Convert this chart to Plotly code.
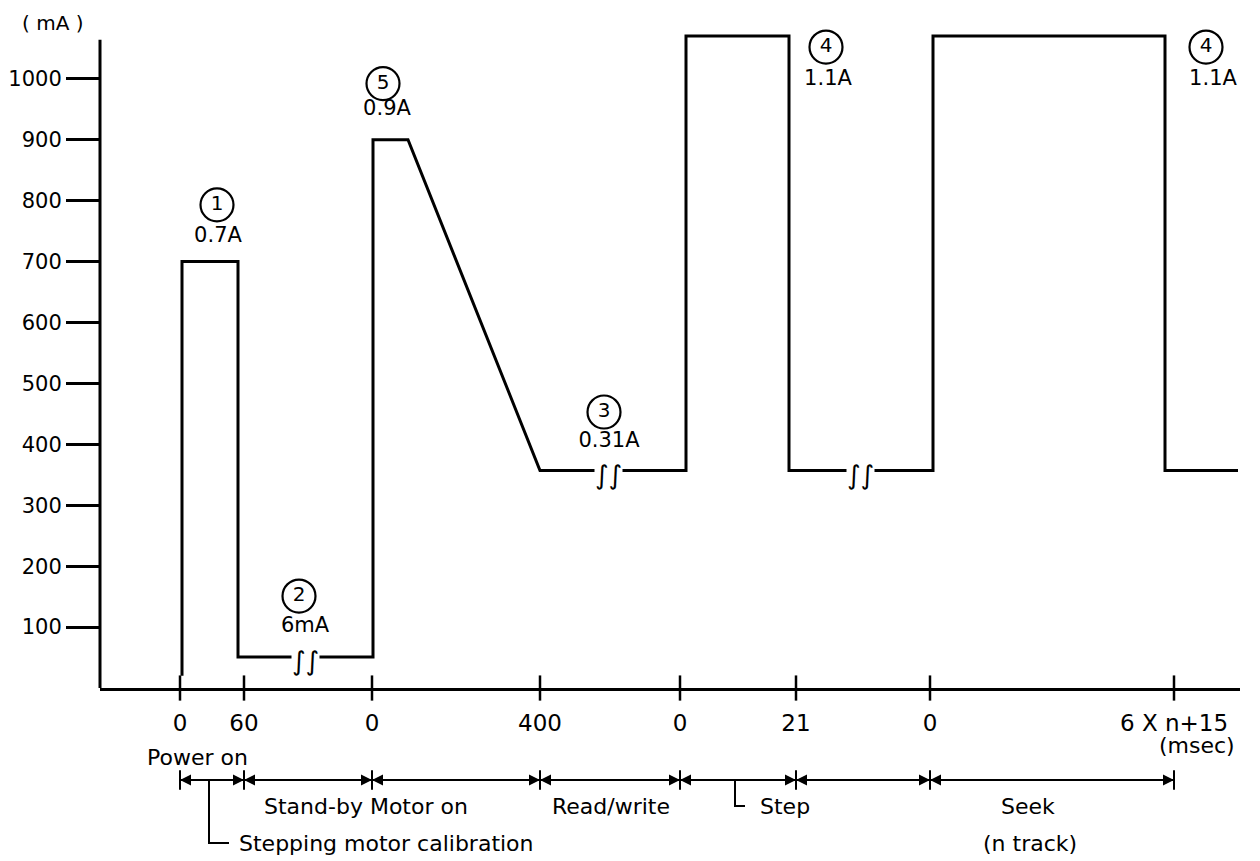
import plotly.graph_objects as go

FONT = "DejaVu Sans"

# y axis (mA)
y_ticks = [100, 200, 300, 400, 500, 600, 700, 800, 900, 1000]

# time axis: schematic positions of the segment boundaries along the drawn axis
tick_pos = [0, 64, 192, 360, 500, 616, 750, 994]
tick_text = ["0", "60", "0", "400", "0", "21", "0", "6 X n+15"]

# supply current waveform (mA) against the schematic time position
wave_x = [2, 2, 58, 58, 193, 193, 228, 360, 506, 506, 609, 609, 753, 753, 985, 985, 1058]
wave_ma = [20, 700, 700, 51, 51, 900, 900, 357, 357, 1070, 1070, 357, 357, 1070, 1070, 357, 357]

# breaks in the time axis
break_x = [125, 428, 680]
break_ma = [51, 357, 357]

# circled reference numbers and the current values next to them
mark_num = ["1", "2", "5", "3", "4", "4"]
value_text = ["0.7A", "6mA", "0.9A", "0.31A", "1.1A", "1.1A"]

# phases shown under the time axis
phase_text = ["Stand-by Motor on", "Read/write", "Step", "Seek"]

# label placement (layout only)
mark_x = [37, 119, 203, 424, 646, 1026]
mark_y = [793, 151, 992, 453, 1052, 1052]
value_x = [38, 125, 207, 429, 648, 1033]
value_y = [741, 100, 949, 404, 998, 998]
phase_x = [186, 431, 578, 848]

fig = go.Figure()

# the waveform
fig.add_trace(go.Scatter(x=wave_x, y=wave_ma, mode="lines",
                         line=dict(color="black", width=3)))

# tick marks crossing the time axis
fig.add_trace(go.Scatter(x=tick_pos, y=[0] * len(tick_pos), mode="markers",
                         marker=dict(symbol="line-ns", size=18,
                                     line=dict(color="black", width=2.5)),
                         cliponaxis=False))

# circled numbers
fig.add_trace(go.Scatter(x=mark_x, y=mark_y, mode="markers+text", text=mark_num,
                         textposition="middle center",
                         textfont=dict(family=FONT, size=20, color="black"),
                         marker=dict(symbol="circle-open", size=33, color="black",
                                     line=dict(width=2.2)),
                         cliponaxis=False))

# current values
fig.add_trace(go.Scatter(x=value_x, y=value_y, mode="text", text=value_text,
                         textposition="middle center",
                         textfont=dict(family=FONT, size=21, color="black"),
                         cliponaxis=False))

# axis breaks
for bx, by in zip(break_x, break_ma):
    fig.add_annotation(x=bx, y=by, text="∫∫", showarrow=False, bgcolor="white",
                       borderpad=0, yshift=-4,
                       font=dict(family=FONT, size=26, color="black"))

# timeline of operation phases (second, hidden y axis under the plot)
fig.add_trace(go.Scatter(x=[tick_pos[0], tick_pos[-1]], y=[0, 0], mode="lines",
                         line=dict(color="black", width=2), yaxis="y2"))
fig.add_trace(go.Scatter(x=tick_pos[1:], y=[0] * (len(tick_pos) - 1), mode="markers",
                         marker=dict(symbol="arrow-right", size=11, color="black"),
                         yaxis="y2", cliponaxis=False))
fig.add_trace(go.Scatter(x=tick_pos[:-1], y=[0] * (len(tick_pos) - 1), mode="markers",
                         marker=dict(symbol="arrow-left", size=11, color="black"),
                         yaxis="y2", cliponaxis=False))
fig.add_trace(go.Scatter(x=tick_pos, y=[0] * len(tick_pos), mode="markers",
                         marker=dict(symbol="line-ns", size=14,
                                     line=dict(color="black", width=2)),
                         yaxis="y2", cliponaxis=False))

# leader lines
fig.add_trace(go.Scatter(x=[29, 29, 49], y=[0, -63, -63], mode="lines",
                         line=dict(color="black", width=2), yaxis="y2"))
fig.add_trace(go.Scatter(x=[555, 555, 565], y=[0, -26, -26], mode="lines",
                         line=dict(color="black", width=2), yaxis="y2"))

txt = dict(family=FONT, size=22, color="black")
for t, px in zip(phase_text, phase_x):
    fig.add_annotation(x=px, y=-26, yref="y2", text=t, showarrow=False, font=txt,
                       xanchor="left" if t == "Step" else "center")
fig.add_annotation(x=850, y=-63, yref="y2", text="(n track)", showarrow=False, font=txt)
fig.add_annotation(x=57, y=-63, yref="y2", text="Stepping motor calibration",
                   showarrow=False, font=txt, xanchor="left")
fig.add_annotation(x=17, y=23, yref="y2", text="Power on", showarrow=False, font=txt)
fig.add_annotation(x=1017, y=35, yref="y2", text="(msec)", showarrow=False, font=txt)

# unit label of the current axis
fig.add_annotation(xref="paper", yref="paper", x=-0.042, y=1.009, text="( mA )",
                   xanchor="center", yanchor="middle", showarrow=False,
                   font=dict(family=FONT, size=20, color="black"))

# vertical axis line (stops short of the top of the plot)
fig.add_shape(type="line", xref="paper", yref="y", x0=0, x1=0, y0=0, y1=1064,
              line=dict(color="black", width=3))

# the page body adds an 8px margin, so the figure is 8px smaller each way
fig.update_layout(
    width=1252, height=853,
    margin=dict(l=92, r=20, t=22, b=10),
    paper_bgcolor="white", plot_bgcolor="white",
    showlegend=False,
    xaxis=dict(range=[-80, 1060], tickvals=tick_pos, ticktext=tick_text,
               ticks="", ticklabelstandoff=12, showgrid=False, zeroline=False,
               showline=True, linecolor="black", linewidth=3, automargin=False,
               tickfont=dict(family=FONT, size=23, color="black")),
    yaxis=dict(range=[0, 1080], domain=[0.1985, 1], tickvals=y_ticks,
               ticks="outside", ticklen=33, tickwidth=3, tickcolor="black",
               showgrid=False, zeroline=False, showline=False, automargin=False,
               tickfont=dict(family=FONT, size=21, color="black")),
    yaxis2=dict(range=[-71, 92], domain=[0, 0.1985], anchor="x", visible=False),
)

fig.write_html("out.html")
